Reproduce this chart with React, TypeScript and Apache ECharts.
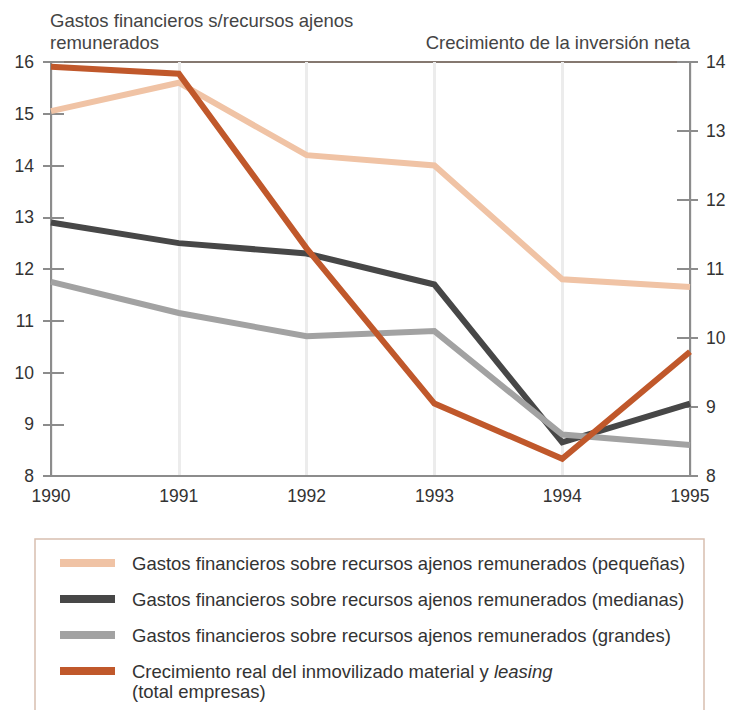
import React, { useEffect, useRef } from "react";
import * as echarts from "echarts";

const years = ["1990", "1991", "1992", "1993", "1994", "1995"];
const pequenas = [15.05, 15.6, 14.2, 14.0, 11.8, 11.65];
const medianas = [12.9, 12.5, 12.3, 11.7, 8.65, 9.4];
const grandes = [11.75, 11.15, 10.7, 10.8, 8.8, 8.6];
const inversion = [13.93, 13.83, 11.3, 9.05, 8.25, 9.8];

const leftTitle = "Gastos financieros s/recursos ajenos\nremunerados";
const rightTitle = "Crecimiento de la inversión neta";
const names = [
  "Gastos financieros sobre recursos ajenos remunerados (pequeñas)",
  "Gastos financieros sobre recursos ajenos remunerados (medianas)",
  "Gastos financieros sobre recursos ajenos remunerados (grandes)",
  "Crecimiento real del inmovilizado material y leasing",
];
const colors = ["#f0c3a5", "#474747", "#a2a2a2", "#c0582b"];

const FONT = "'Liberation Sans', Arial, Helvetica, sans-serif";

export default function App() {
  const ref = useRef<HTMLDivElement>(null);
  useEffect(() => {
    const chart = echarts.init(ref.current!, null, { renderer: "svg" });
    const axisColor = "#8c8c8c";
    const labelStyle = { color: "#333", fontSize: 17.5, fontFamily: FONT };
    chart.setOption({
      animation: false,
      backgroundColor: "#fff",
      grid: {
        left: 51,
        right: 43,
        top: 62,
        bottom: 234,
        show: true,
        borderColor: "#857870",
        borderWidth: 2,
      },
      xAxis: {
        type: "category",
        data: years,
        boundaryGap: false,
        axisLine: { lineStyle: { color: axisColor, width: 2 } },
        axisTick: { show: false },
        axisLabel: { ...labelStyle, margin: 11 },
        splitLine: { show: true, lineStyle: { color: "#ececec", width: 3 } },
      },
      yAxis: [
        {
          type: "value",
          min: 8,
          max: 16,
          interval: 1,
          position: "left",
          name: leftTitle,
          nameLocation: "end",
          nameGap: 9,
          nameTextStyle: {
            ...labelStyle,
            fontSize: 18.5,
            color: "#444",
            align: "left",
            verticalAlign: "bottom",
            lineHeight: 22,
            padding: [0, 0, 0, -1],
          },
          axisLine: { show: true, lineStyle: { color: axisColor, width: 2 } },
          axisTick: { show: true, length: 8, lineStyle: { color: axisColor, width: 2 } },
          axisLabel: { ...labelStyle, margin: 17 },
          splitLine: { show: false },
        },
        {
          type: "value",
          min: 8,
          max: 14,
          interval: 1,
          position: "right",
          name: rightTitle,
          nameLocation: "end",
          nameGap: 9,
          nameTextStyle: {
            ...labelStyle,
            fontSize: 18.5,
            color: "#444",
            align: "right",
            verticalAlign: "bottom",
            lineHeight: 22,
          },
          axisLine: { show: true, lineStyle: { color: axisColor, width: 2 } },
          axisTick: { show: true, length: 8, lineStyle: { color: axisColor, width: 2 } },
          axisLabel: { ...labelStyle, margin: 16 },
          splitLine: { show: false },
        },
        {
          type: "value",
          min: 8,
          max: 16,
          interval: 1,
          position: "left",
          axisLine: { show: false },
          axisTick: { show: true, inside: true, length: 13, lineStyle: { color: axisColor, width: 2 } },
          axisLabel: { show: false },
          splitLine: { show: false },
        },
        {
          type: "value",
          min: 8,
          max: 14,
          interval: 1,
          position: "right",
          axisLine: { show: false },
          axisTick: { show: true, inside: true, length: 13, lineStyle: { color: axisColor, width: 2 } },
          axisLabel: { show: false },
          splitLine: { show: false },
        },
      ],
      legend: {
        orient: "vertical",
        left: 55,
        top: 548,
        padding: 5,
        icon: "rect",
        itemWidth: 55,
        itemHeight: 8,
        itemGap: 16,
        data: names,
        formatter: (name: string) =>
          name === names[3]
            ? "{n|Crecimiento real del inmovilizado material y }{i|leasing}"
            : "{n|" + name + "}",
        textStyle: {
          color: "#333",
          fontSize: 18.5,
          fontFamily: FONT,
          lineHeight: 20,
          padding: [0, 0, 0, 12],
          rich: {
            n: { color: "#333", fontSize: 18.5, fontFamily: FONT, lineHeight: 20 },
            i: { color: "#333", fontSize: 18.5, fontFamily: FONT, fontStyle: "italic", lineHeight: 20 },
          },
        },
      },
      graphic: [
        {
          type: "rect",
          shape: { x: 35, y: 539, width: 669, height: 172 },
          style: { fill: "none", stroke: "#d8bfb0", lineWidth: 1.5 },
          silent: true,
        },
        {
          type: "text",
          x: 132,
          y: 682,
          style: { text: "(total empresas)", fill: "#333", fontSize: 18.5, fontFamily: FONT },
          silent: true,
        },
      ],
      series: [
        { name: names[0], data: pequenas, yAxisIndex: 0, color: colors[0], lineWidth: 6 },
        { name: names[1], data: medianas, yAxisIndex: 0, color: colors[1], lineWidth: 6 },
        { name: names[2], data: grandes, yAxisIndex: 0, color: colors[2], lineWidth: 6 },
        { name: names[3], data: inversion, yAxisIndex: 1, color: colors[3], lineWidth: 6 },
      ].map((s) => ({
        type: "line",
        name: s.name,
        data: s.data,
        yAxisIndex: s.yAxisIndex,
        symbol: "none",
        itemStyle: { color: s.color },
        lineStyle: { color: s.color, width: s.lineWidth, join: "miter" },
      })),
    });
    return () => chart.dispose();
  }, []);
  return (
    <div
      ref={ref}
      style={{ position: "fixed", left: 0, top: 0, width: 733, height: 710 }}
    />
  );
}
